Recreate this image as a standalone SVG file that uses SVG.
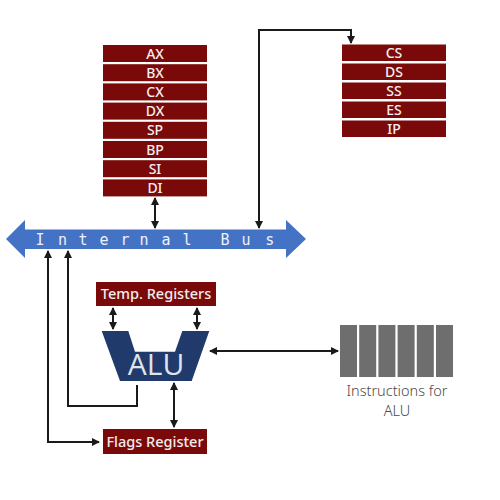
<svg xmlns="http://www.w3.org/2000/svg" width="500" height="500" viewBox="0 0 500 500">
<style>
.reg{fill:#7a0a0a;}
.rt{fill:#f2eeee;font-family:"Noto Sans","Open Sans","DejaVu Sans",sans-serif;font-size:14px;font-weight:500;text-anchor:middle;}
.conn{fill:none;stroke:#1a1a1a;stroke-width:2;}
.ins{fill:#6e6e6e;}
.lbl{fill:#4a4a4a;font-family:"Noto Sans","Open Sans","DejaVu Sans",sans-serif;font-size:14.5px;font-weight:300;text-anchor:middle;}
</style>
<defs>
<marker id="ah" viewBox="0 0 8 8" refX="7" refY="4" markerWidth="8" markerHeight="8" markerUnits="userSpaceOnUse" orient="auto-start-reverse">
<path d="M0,0 L8,4 L0,8 Z" fill="#1a1a1a"/>
</marker>
</defs>
<rect width="500" height="500" fill="#ffffff"/>
<g id="general-registers">
<rect class="reg" x="103" y="45" width="104" height="17"/><text class="rt" x="155" y="58.5">AX</text>
<rect class="reg" x="103" y="64.2" width="104" height="17"/><text class="rt" x="155" y="77.7">BX</text>
<rect class="reg" x="103" y="83.4" width="104" height="17"/><text class="rt" x="155" y="96.9">CX</text>
<rect class="reg" x="103" y="102.6" width="104" height="17"/><text class="rt" x="155" y="116.1">DX</text>
<rect class="reg" x="103" y="121.8" width="104" height="17"/><text class="rt" x="155" y="135.3">SP</text>
<rect class="reg" x="103" y="141" width="104" height="17"/><text class="rt" x="155" y="154.5">BP</text>
<rect class="reg" x="103" y="160.2" width="104" height="17"/><text class="rt" x="155" y="173.7">SI</text>
<rect class="reg" x="103" y="179.4" width="104" height="17"/><text class="rt" x="155" y="192.9">DI</text>
</g>
<g id="segment-registers">
<rect class="reg" x="342" y="44.5" width="104" height="16.5"/><text class="rt" x="394" y="58">CS</text>
<rect class="reg" x="342" y="63.5" width="104" height="16.5"/><text class="rt" x="394" y="77">DS</text>
<rect class="reg" x="342" y="82.5" width="104" height="16.5"/><text class="rt" x="394" y="96">SS</text>
<rect class="reg" x="342" y="101.5" width="104" height="16.5"/><text class="rt" x="394" y="115">ES</text>
<rect class="reg" x="342" y="120.5" width="104" height="16.5"/><text class="rt" x="394" y="134">IP</text>
</g>
<g id="internal-bus">
<polygon points="6,239 25,220 25,229.5 286,229.5 286,220 306,239 286,258 286,249 25,249 25,258" fill="#4472c4"/>
<text x="40 62.5 83 104 125 144 166 187 206 225 246 269.7" y="245" fill="#eef1f7" font-family="'DejaVu Sans Mono','Liberation Mono',monospace" font-size="15" text-anchor="middle">Internal Bus</text>
</g>
<g id="temp-registers">
<rect class="reg" x="96" y="282" width="120" height="24"/>
<text class="rt" x="156" y="299" style="font-size:14.5px">Temp. Registers</text>
</g>
<g id="alu">
<polygon points="101.7,331 128.3,331 135,351.7 175,351.7 182.3,331 209.3,331 191.7,381 120,381" fill="#1f3a6b"/>
<text x="156" y="375" fill="#dfe3ec" font-family="'Open Sans','DejaVu Sans',sans-serif" font-size="30" text-anchor="middle">ALU</text>
</g>
<g id="flags-register">
<rect class="reg" x="103" y="429" width="104" height="25"/>
<text class="rt" x="155" y="446.5" style="font-size:14.5px">Flags Register</text>
</g>
<g id="instructions">
<rect class="ins" x="340" y="325" width="17" height="52"/>
<rect class="ins" x="359.2" y="325" width="17" height="52"/>
<rect class="ins" x="378.4" y="325" width="17" height="52"/>
<rect class="ins" x="397.6" y="325" width="17" height="52"/>
<rect class="ins" x="416.8" y="325" width="17" height="52"/>
<rect class="ins" x="436" y="325" width="17" height="52"/>
<text class="lbl" x="397" y="396">Instructions for</text>
<text class="lbl" x="397" y="416">ALU</text>
</g>
<g id="connectors">
<line class="conn" x1="155" y1="198" x2="155" y2="228" marker-start="url(#ah)" marker-end="url(#ah)"/>
<path class="conn" d="M259,228 V30 H351 V43" marker-start="url(#ah)" marker-end="url(#ah)"/>
<path class="conn" d="M99,442 H48 V251" marker-start="url(#ah)" marker-end="url(#ah)"/>
<path class="conn" d="M137,385 V406 H68 V251" marker-end="url(#ah)"/>
<line class="conn" x1="113" y1="308" x2="113" y2="329" marker-start="url(#ah)" marker-end="url(#ah)"/>
<line class="conn" x1="197" y1="308" x2="197" y2="329" marker-start="url(#ah)" marker-end="url(#ah)"/>
<line class="conn" x1="174" y1="383" x2="174" y2="427" marker-start="url(#ah)" marker-end="url(#ah)"/>
<line class="conn" x1="210" y1="351" x2="338" y2="351" marker-start="url(#ah)" marker-end="url(#ah)"/>
</g>
</svg>
